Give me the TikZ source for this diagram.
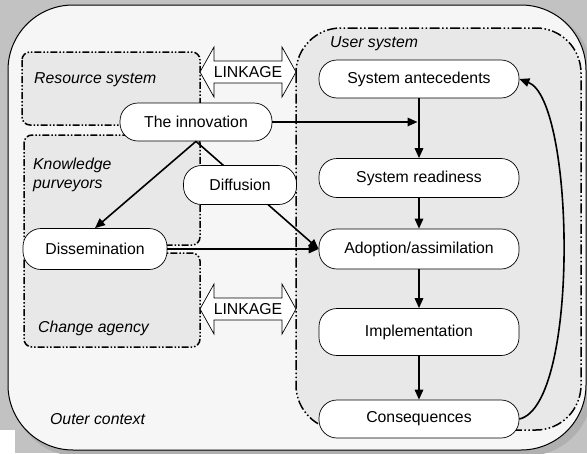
\documentclass[tikz,border=0pt]{standalone}
\usepackage{fontspec}
\setmainfont{Liberation Sans}
\usetikzlibrary{arrows.meta}
\definecolor{bggray}{HTML}{C2C2C2}
\definecolor{shadowgray}{HTML}{B0B0B0}
\definecolor{outerfill}{HTML}{F6F6F6}
\definecolor{boxgray}{HTML}{E8E8E8}
\begin{document}
\begin{tikzpicture}[x=1pt,y=-1pt,
  txt/.style={font=\fontsize{15.8}{18.5}\selectfont},
  pill/.style={txt, draw, fill=white, rounded corners=18pt, line width=0.7pt, inner sep=0pt},
  lbl/.style={font=\fontsize{15.8}{18.5}\selectfont\itshape, anchor=west, inner sep=0pt, align=left},
  dbox/.style={draw, line width=1.5pt, fill=boxgray, dash pattern=on 7pt off 2pt on 1.5pt off 2pt on 1.5pt off 2pt},
  ubox/.style={draw, line width=1.5pt, fill=boxgray, dash pattern=on 10pt off 2.5pt on 1.5pt off 2.5pt on 1.5pt off 2.5pt},
  arr/.style={line width=1.6pt, -{Triangle[length=10pt,width=8.5pt]}},
  link/.style={draw, fill=white, line width=0.7pt}]
% background
\fill[bggray] (0,0) rectangle (587,453);
\useasboundingbox (0,0) rectangle (587,453);
\fill[shadowgray, rounded corners=65pt] (12,9) rectangle (592,456);
\path[fill=outerfill, draw, line width=1pt, rounded corners=65pt] (8,5) rectangle (586,450);
\fill[white] (0,430) rectangle (15,453);
% inner boxes
\path[dbox, rounded corners=8pt] (22,52) rectangle (200,125);
\path[dbox, rounded corners=8pt] (24,135) rectangle (200,245);
\path[dbox, rounded corners=8pt] (24,253) rectangle (200,347);
\path[ubox, rounded corners=45pt] (296,28) rectangle (581,430);
% labels
\node[lbl] (rs) at (34,80) {Resource system};
\node[lbl] (kp) at (33,175) {Knowledge\\purveyors};
\node[lbl] (ca) at (38,328) {Change agency};
\node[lbl] (oc) at (50,419) {Outer context};
\node[lbl] (us) at (330,44) {User system};
% linkage arrows
\path[link] (200,72) -- (214,47) -- (214,61) -- (282,61) -- (282,47) -- (296,72)
  -- (282,97) -- (282,83) -- (214,83) -- (214,97) -- cycle;
\node[txt, inner sep=0pt] (lk1) at (248,72) {LINKAGE};
\path[link] (200,309) -- (214,284) -- (214,298) -- (282,298) -- (282,284) -- (296,309)
  -- (282,334) -- (282,320) -- (214,320) -- (214,334) -- cycle;
\node[txt, inner sep=0pt] (lk2) at (248,309) {LINKAGE};
% nodes
\node[pill, minimum width=200pt, minimum height=38pt] (ant) at (419,79) {System antecedents};
\node[pill, minimum width=200pt, minimum height=39pt] (rea) at (419,178) {System readiness};
\node[pill, minimum width=200pt, minimum height=40pt] (ado) at (419,249) {Adoption/assimilation};
\node[pill, minimum width=200pt, minimum height=47pt] (imp) at (419,332) {Implementation};
\node[pill, minimum width=200pt, minimum height=38pt] (con) at (419,419) {Consequences};
\coordinate (j) at (419,122);
\node[pill, minimum width=152pt, minimum height=38pt] (inn) at (196,122) {The innovation};
\node[pill, minimum width=144pt, minimum height=41pt] (dis) at (95,249) {Dissemination};
% connector passing behind Diffusion
\draw[arr] (inn.south) -- (ado.west);
\node[pill, minimum width=113pt, minimum height=39pt] (dif) at (240,185) {Diffusion};
\draw[arr] (inn.south) -- (dis.north);
\draw[arr] (dis.east) -- (ado.west);
\draw[arr, shorten >=1.5pt] (inn.east) -- (j);
\draw[arr] (ant.south) -- (rea.north);
\draw[arr] (rea.south) -- (ado.north);
\draw[arr] (ado.south) -- (imp.north);
\draw[arr] (imp.south) -- (con.north);
\draw[arr] (con.east) .. controls (580,405) and (575,100) .. (ant.east);
\end{tikzpicture}
\end{document}
